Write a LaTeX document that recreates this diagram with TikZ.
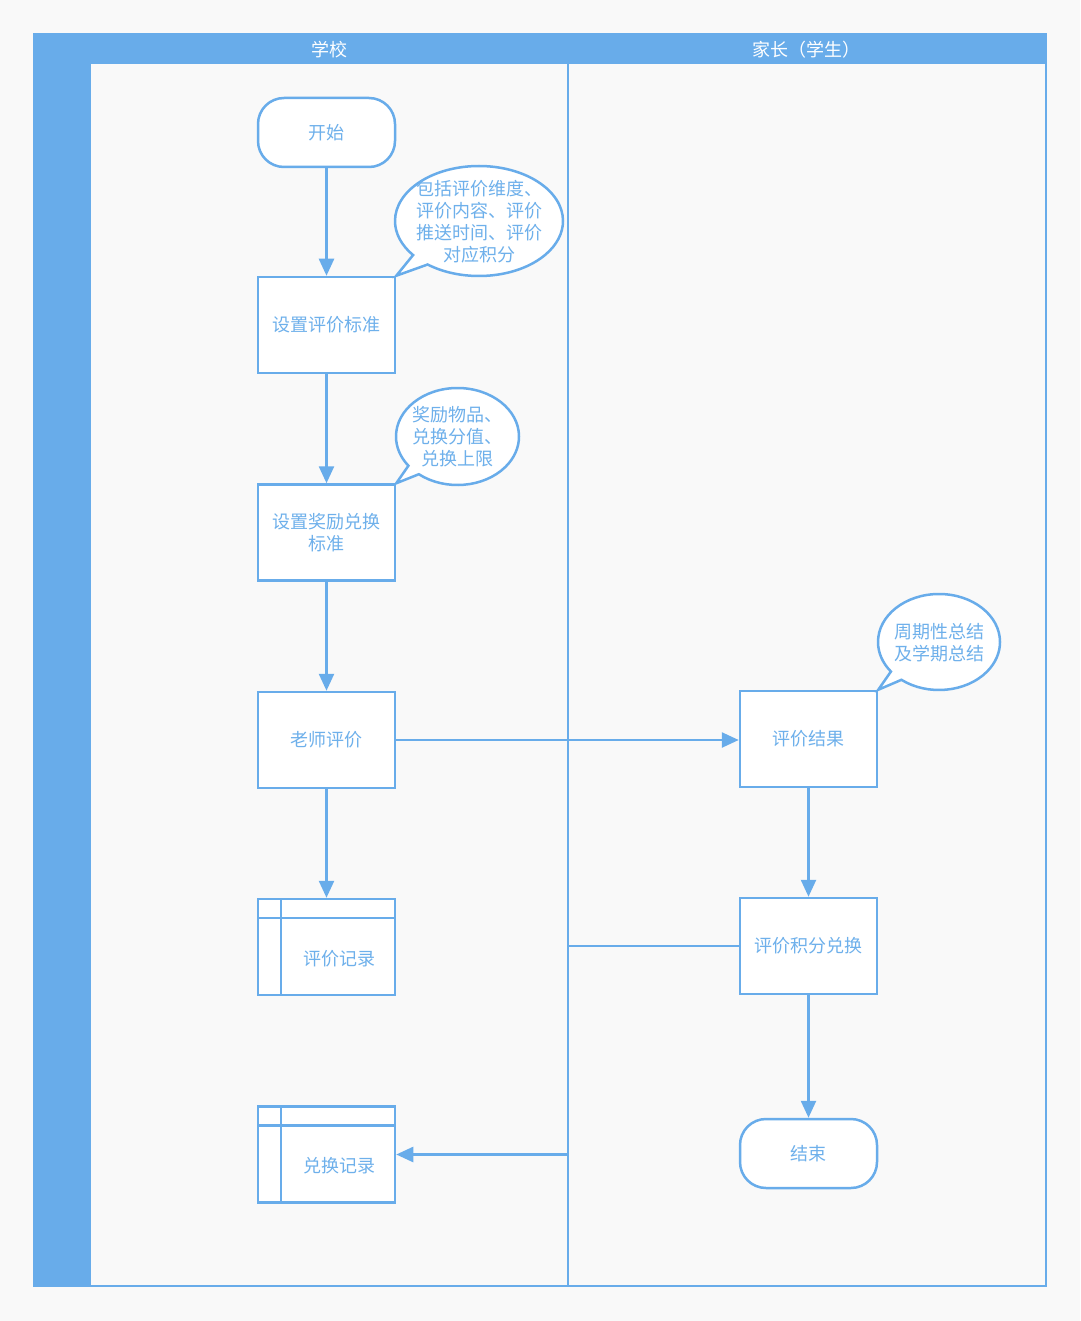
\documentclass[tikz,border=0pt]{standalone}
\usepackage{fontspec}
\newfontfamily\cjk{Noto Sans CJK SC}
\usetikzlibrary{arrows.meta,shapes.callouts}
\definecolor{lb}{HTML}{68ACEA}
\definecolor{tb}{HTML}{6EB0EB}
\definecolor{bg}{HTML}{F9F9F9}
\begin{document}
\begin{tikzpicture}[x=1pt,y=-1pt,
  cjkfont/.style={font=\cjk\fontsize{18}{22}\selectfont},
  base/.style={draw=lb,fill=white,line width=2.5pt,text=tb,cjkfont,align=center,inner sep=0pt},
  proc/.style={base,minimum width=137pt,minimum height=96pt},
  term/.style={base,rounded corners=26pt,minimum width=137pt,minimum height=69pt},
  record/.style={proc,path picture={
      \draw[lb,line width=2.5pt] ([xshift=23pt]path picture bounding box.north west) -- ([xshift=23pt]path picture bounding box.south west);
      \draw[lb,line width=2.5pt] ([yshift=-19pt]path picture bounding box.north west) -- ([yshift=-19pt]path picture bounding box.north east);}},
  note/.style={base,ellipse callout,callout absolute pointer={#1},callout pointer arc=14},
  txt/.style={text=tb,cjkfont,align=center,inner sep=0pt},
  head/.style={text=white,cjkfont,inner sep=0pt},
  flow/.style={draw=lb,line width=2.5pt,-{Triangle[width=15pt,length=17pt]}},
  lane/.style={draw=lb,line width=2.5pt}
]
\useasboundingbox[fill=bg] (0,0) rectangle (1080,1321);
% swimlane frame
\fill[lb] (33,33) rectangle (1047,63);
\fill[lb] (33,33) rectangle (90,1287);
\draw[lane] (90,63) rectangle (568,1286);
\draw[lane] (568,63) rectangle (1046,1286);
\coordinate (div) at (568,63);
\node[head] (h1) at (329,49.5) {学校};
\node[head] (h2) at (806,49.5) {家长（学生）};
% school lane
\node[term] (s0) at (326.5,132.5) {开始};
\node[proc] (s1) at (326.5,325) {设置评价标准};
\node[proc] (s2) at (326.5,532.5) {设置奖励兑换\\标准};
\node[proc] (s3) at (326.5,740) {老师评价};
\node[record] (rec1) at (326.5,947) {};
\node[txt] (rec1t) at (339,959) {评价记录};
\node[record] (rec2) at (326.5,1154.5) {};
\node[txt] (rec2t) at (339,1166) {兑换记录};
% parent lane
\node[proc] (r1) at (808.5,739) {评价结果};
\node[proc] (r2) at (808.5,946) {评价积分兑换};
\node[term] (e) at (808.5,1153.5) {结束};
% callouts
\node[note={(s1.north east)},minimum width=168pt,minimum height=110pt] (c1) at (479,221) {};
\node[txt] (c1t) at (479,222) {包括评价维度、\\评价内容、评价\\推送时间、评价\\对应积分};
\node[note={(s2.north east)},minimum width=123pt,minimum height=97pt] (c2) at (457.5,436.5) {};
\node[txt] (c2t) at (457.5,437) {奖励物品、\\兑换分值、\\兑换上限};
\node[note={(r1.north east)},minimum width=122pt,minimum height=96pt] (c3) at (939,642) {};
\node[txt] (c3t) at (939,643) {周期性总结\\及学期总结};
% connectors
\draw[flow] (s0) -- (s1);
\draw[flow] (s1) -- (s2);
\draw[flow] (s2) -- (s3);
\draw[flow] (s3) -- (rec1);
\draw[flow] (s3.east) -- (s3.east -| r1.west);
\draw[flow] (r1) -- (r2);
\draw[flow] (r2) -- (e);
\draw[flow] (r2.west) -- (r2.west -| div) |- (rec2.east);
\end{tikzpicture}
\end{document}
